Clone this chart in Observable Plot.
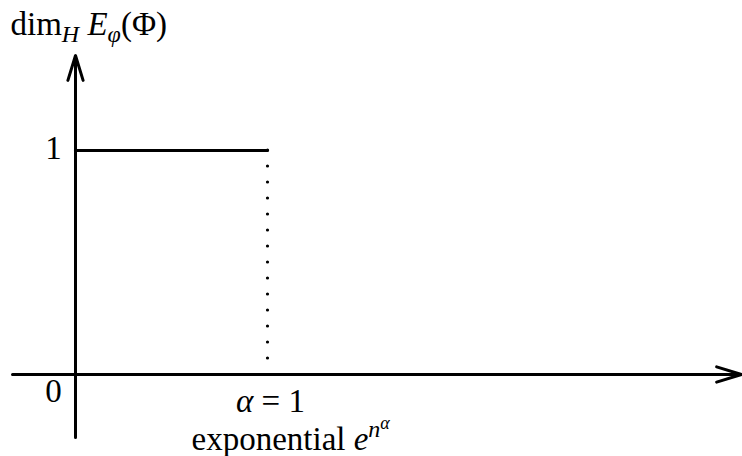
<!DOCTYPE html>
<html><head><meta charset="utf-8">
<script src="https://cdn.jsdelivr.net/npm/d3@7"></script>
<script src="https://cdn.jsdelivr.net/npm/@observablehq/plot@0.6"></script>
<style>body{margin:0;background:#fff}</style>
</head><body><div id="chart"></div>
<script>
// ---- data ----
const stepX = [0, 1];          // dimension = 1 for alpha in [0, 1]
const stepY = [1, 1];
const alphaThreshold = [1];    // dotted drop at alpha = 1
const yTickValues = [1, 0];
const yTickLabels = ["1", "0"];
const xTickLabel = "α = 1";
const xTitle = "exponential e^{n^α}";
const yTitle = "dim_H E_φ(Φ)";

// ---- layout (pixel -> data helpers) ----
const W = 742, H = 456;
const ox = 75, oy = 374, ux = 192, uy = 224;
const xv = p => (p - ox) / ux;
const yv = p => (oy - p) / uy;
const FS = 33;

const stepData = stepX.map((x, i) => ({x, y: stepY[i]}));
const tickData = yTickValues.map((v, i) => ({v, label: yTickLabels[i]}));

const chart = Plot.plot({
  width: W, height: H,
  margin: 0,
  x: {domain: [xv(0), xv(W)], axis: null},
  y: {domain: [yv(H), yv(0)], axis: null},
  style: {background: "white", fontFamily: "'Liberation Serif', 'DejaVu Serif', serif", color: "black", overflow: "visible"},
  marks: [
    // axes
    Plot.arrow([0], {x1: xv(12), y1: 0, x2: xv(741), y2: 0, stroke: "black", strokeWidth: 3, headLength: 13, headAngle: 34, bend: 0}),
    Plot.arrow([0], {x1: 0, y1: yv(437), x2: 0, y2: yv(55), stroke: "black", strokeWidth: 3, headLength: 13, headAngle: 34, bend: 0}),
    // step
    Plot.line(stepData, {x: "x", y: "y", stroke: "black", strokeWidth: 3}),
    Plot.ruleX(alphaThreshold, {x: d => d, y1: 1, y2: 0, stroke: "black", strokeWidth: 3.2, strokeDasharray: "0 16", strokeLinecap: "round"}),
    // tick labels on y
    Plot.text(tickData, {x: xv(53), y: d => d.v === 0 ? yv(401) : yv(158), text: "label", fontSize: FS, lineAnchor: "bottom", textAnchor: "middle", fill: "black"}),
    // x label
    Plot.text(alphaThreshold, {x: d => d, y: yv(411), text: () => xTickLabel, fontSize: FS, lineAnchor: "bottom", textAnchor: "middle", dx: 3, fill: "black"}),
    Plot.text([0], {x: xv(191), y: yv(449), text: () => xTitle, fontSize: FS, lineAnchor: "bottom", textAnchor: "start", fill: "black"}),
    Plot.text([0], {x: xv(10), y: yv(34), text: () => yTitle, fontSize: FS, lineAnchor: "bottom", textAnchor: "start", fill: "black"})
  ]
});
document.getElementById("chart").appendChild(chart);

// ---- rich text (italic / sub / superscripts) ----
function rich(txt, parts) {
  d3.select(chart).selectAll("text").filter(function() { return this.textContent === txt; })
    .each(function() {
      const el = d3.select(this);
      el.text(null);
      parts.forEach(p => {
        const t = el.append("tspan").text(p.t);
        if (p.i) t.attr("font-style", "italic");
        if (p.s) t.attr("font-size", p.s);
        if (p.dy) t.attr("dy", p.dy);
      });
    });
}
rich(yTitle, [
  {t: "dim"},
  {t: "H", i: 1, s: 24, dy: 7},
  {t: " E", i: 1, dy: -7},
  {t: "φ", i: 1, s: 24, dy: 7},
  {t: "(Φ)", dy: -7}
]);
rich(xTickLabel, [{t: "α", i: 1}, {t: " = 1"}]);
rich(xTitle, [
  {t: "exponential "},
  {t: "e", i: 1},
  {t: "n", i: 1, s: 24, dy: -13},
  {t: "α", i: 1, s: 18, dy: -8}
]);
</script>
</body></html>
